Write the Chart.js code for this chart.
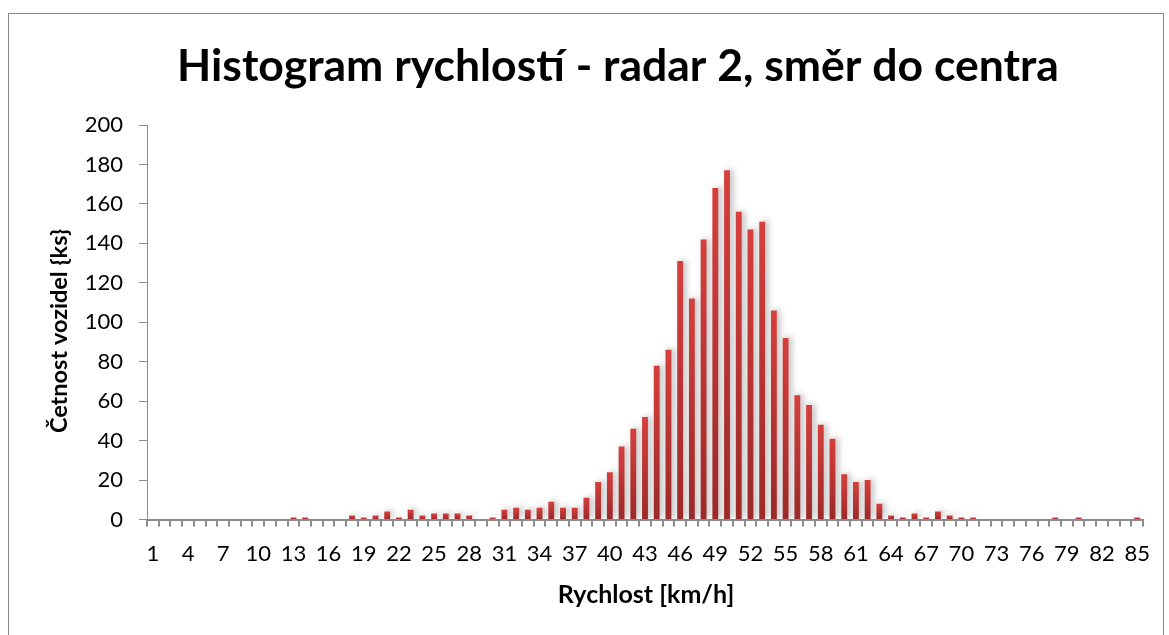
<!DOCTYPE html>
<html><head><meta charset="utf-8">
<script src="https://cdn.jsdelivr.net/npm/chart.js@4.4.1/dist/chart.umd.min.js"></script>
<style>
html,body{margin:0;padding:0;background:#fff;overflow:hidden;}
#frame{position:absolute;left:8px;top:13px;width:1156px;height:640px;border:1px solid #8a8a8a;box-sizing:border-box;}
#wrap{position:absolute;left:0;top:0;width:1169px;height:635px;}
</style></head>
<body>
<div id="frame"></div>
<div id="wrap"><canvas id="c" width="1169" height="635"></canvas></div>
<script>
const chartTitle = 'Histogram rychlostí - radar 2, směr do centra';
const xTitle = 'Rychlost [km/h]';
const yTitle = 'Četnost vozidel {ks}';

const speeds = [1,2,3,4,5,6,7,8,9,10,11,12,13,14,15,16,17,18,19,20,
  21,22,23,24,25,26,27,28,29,30,31,32,33,34,35,36,37,38,39,40,
  41,42,43,44,45,46,47,48,49,50,51,52,53,54,55,56,57,58,59,60,
  61,62,63,64,65,66,67,68,69,70,71,72,73,74,75,76,77,78,79,80,
  81,82,83,84,85];

const counts = [0,0,0,0,0,0,0,0,0,0,
  0,0,1,1,0,0,0,2,1,2,
  4,1,5,2,3,3,3,2,0,1,
  5,6,5,6,9,6,6,11,19,24,
  37,46,52,78,86,131,112,142,168,177,
  156,147,151,106,92,63,58,48,41,23,
  19,20,8,2,1,3,1,4,2,1,
  1,0,0,0,0,0,0,1,0,1,
  0,0,0,0,1];

const shownSpeedLabels = [1,4,7,10,13,16,19,22,25,28,31,34,37,40,43,46,49,52,55,58,61,64,67,70,73,76,79,82,85];
const yMin = 0, yMax = 200, yStep = 20;

const FONT = 'Lato, "Open Sans", sans-serif';

function barGradient(ctx) {
  const chart = ctx.chart;
  const ys = chart.scales && chart.scales.y;
  if (!chart.chartArea || !ys) return '#c83432';
  const v = ctx.raw || 0;
  const top = ys.getPixelForValue(v);
  const base = ys.getPixelForValue(0);
  if (!(base - top > 0.5)) return '#c83432';
  const g = chart.ctx.createLinearGradient(0, top, 0, base);
  g.addColorStop(0, '#d63f3c');
  g.addColorStop(1, '#9c2929');
  return g;
}

const shadowPlugin = {
  id: 'barShadow',
  beforeDatasetsDraw(chart) {
    const c = chart.ctx;
    c.save();
    c.shadowColor = 'rgba(0,0,0,0.28)';
    c.shadowBlur = 6;
    c.shadowOffsetX = 3;
    c.shadowOffsetY = -1;
  },
  afterDatasetsDraw(chart) {
    chart.ctx.restore();
  }
};

const textPlugin = {
  id: 'titles',
  afterDraw(chart) {
    const c = chart.ctx;
    c.save();
    c.fillStyle = '#000';
    c.textAlign = 'center';
    c.textBaseline = 'alphabetic';
    c.font = 'bold 44.5px ' + FONT;
    c.fillText(chartTitle, 618, 81);
    c.font = 'bold 25px ' + FONT;
    c.fillText(xTitle, 646, 603);
    c.translate(67, 331);
    c.rotate(-Math.PI / 2);
    c.font = 'bold 23.5px ' + FONT;
    c.fillText(yTitle, 0, 0);
    c.restore();
  }
};

new Chart(document.getElementById('c'), {
  type: 'bar',
  data: {
    labels: speeds,
    datasets: [{
      data: counts,
      backgroundColor: barGradient,
      borderWidth: 0,
      barPercentage: 0.5,
      categoryPercentage: 1.0
    }]
  },
  options: {
    responsive: false,
    animation: false,
    devicePixelRatio: 1,
    layout: { padding: { top: 125, right: 26, left: 0, bottom: 0 } },
    plugins: { legend: { display: false }, tooltip: { enabled: false }, title: { display: false } },
    scales: {
      x: {
        offset: true,
        grid: { display: true, drawOnChartArea: false, drawTicks: true, tickLength: 7, color: '#8c8c8c', lineWidth: 2, offset: true },
        border: { display: true, color: '#8c8c8c', width: 2 },
        ticks: {
          autoSkip: false, maxRotation: 0, minRotation: 0, padding: 14,
          color: '#000', font: { family: FONT, size: 22 },
          callback: function(val, idx) {
            const s = speeds[idx];
            return shownSpeedLabels.includes(s) ? String(s) : '';
          }
        },
        afterFit(scale) { scale.height = 115.5; }
      },
      y: {
        min: yMin, max: yMax,
        grid: { display: true, drawOnChartArea: false, drawTicks: true, tickLength: 8, color: '#8c8c8c', lineWidth: 1 },
        border: { display: true, color: '#8c8c8c', width: 1 },
        ticks: { stepSize: yStep, padding: 16, color: '#000', font: { family: FONT, size: 22 } },
        afterFit(scale) { scale.width = 147; }
      }
    }
  },
  plugins: [shadowPlugin, textPlugin]
});
</script>
</body></html>
